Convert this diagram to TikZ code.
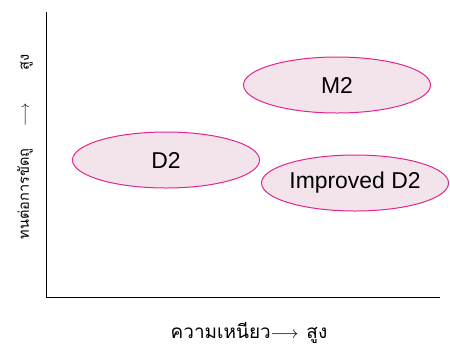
\documentclass[tikz,border=0pt]{standalone}
\usepackage{fontspec}
\setmainfont{Liberation Sans}
\newfontfamily\thaifont[Script=Thai]{Loma}
\usetikzlibrary{shapes.geometric,positioning}

\definecolor{gradeline}{RGB}{226,36,140}
\definecolor{gradefill}{RGB}{243,228,236}

\tikzset{
  grade/.style={ellipse, draw=gradeline, fill=gradefill, line width=1pt,
    minimum width=187bp, minimum height=56bp, inner sep=0pt, font=\fontsize{23}{26}\selectfont},
  axislabel/.style={inner sep=0pt}
}

\begin{document}
\begin{tikzpicture}[x=1bp, y=-1bp]
				\useasboundingbox (0,0) rectangle (450,347);

				% Axes
				\coordinate (origin) at (46,297);
				\coordinate (ytop) at (46,12);
				\coordinate (xend) at (440,297);
				\draw[line width=1pt] (ytop) -- (origin) -- (xend);

				% Grades
				\node[grade] (m2) at (337,85) {M2};
				\node[grade] (d2) at (166,160) {D2};
				\node[grade] (imp) at (355,183) {Improved D2};

				% Axis labels
				\node[axislabel, rotate=90, font=\thaifont\fontsize{14.6}{17}\selectfont] (ylab) at (25,147)
				  {ทนต่อการขัดถู\hspace{22bp}$\longrightarrow$\hspace{33bp}สูง};
				\node[axislabel, font=\thaifont\fontsize{19}{22}\selectfont] (xlab) at (249,333)
				  {ความเหนียว$\longrightarrow$\hspace{8bp}สูง};
			\end{tikzpicture}
\end{document}
